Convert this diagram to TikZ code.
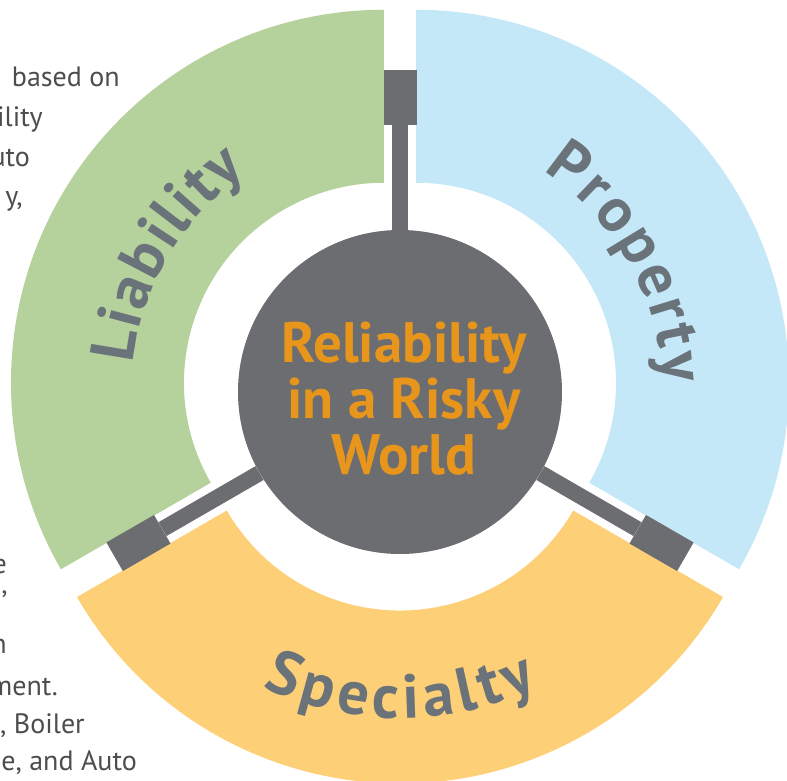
\documentclass[tikz,border=0pt]{standalone}
\usepackage{fontspec}
\setmainfont{PT Sans}
\usepackage{tikz}
\usetikzlibrary{decorations.text}

\definecolor{liabgreen}{RGB}{181,209,156}
\definecolor{propblue}{RGB}{197,232,249}
\definecolor{specyellow}{RGB}{253,207,118}
\definecolor{hubgray}{RGB}{108,109,113}
\definecolor{lblgray}{RGB}{106,114,122}
\definecolor{titleorange}{RGB}{232,150,27}
\definecolor{bodygray}{RGB}{77,77,79}

\newcommand{\lblfont}{\fontsize{62}{64}\selectfont\bfseries}

\tikzset{
	hub/.style={circle, fill=hubgray, minimum size=324pt, inner sep=0pt},
	block/.style={rectangle, fill=hubgray, minimum width=33pt, minimum height=55pt, inner sep=0pt},
	bar/.style={draw=hubgray, line width=16pt},
	title/.style={align=center, text=titleorange, inner sep=0pt, font=\fontsize{57}{56}\selectfont\bfseries},
	body/.style={anchor=base east, inner sep=0pt, text=bodygray, font=\fontsize{28}{40}\selectfont},
	arclabel/.style={decorate, decoration={text along path, text align={fit to path}, text color=lblgray}}
}

\begin{document}
\begin{tikzpicture}[x=1pt, y=1pt]
	\useasboundingbox (-400, -389) rectangle (387, 392);

	% the three parts of the ring, pushed out a little
	\begin{scope}[shift={(150:18.5)}]
		\fill[liabgreen] (90:373) arc[start angle=90, end angle=210, radius=373]
			-- (210:200) arc[start angle=210, end angle=90, radius=200] -- cycle;
	\end{scope}
	\begin{scope}[shift={(30:18.5)}]
		\fill[propblue] (-30:373) arc[start angle=-30, end angle=90, radius=373]
			-- (90:200) arc[start angle=90, end angle=-30, radius=200] -- cycle;
	\end{scope}
	\begin{scope}[shift={(270:18.5)}]
		\fill[specyellow] (210:373) arc[start angle=210, end angle=330, radius=373]
			-- (330:200) arc[start angle=330, end angle=210, radius=200] -- cycle;
	\end{scope}

	\path[arclabel, decoration={text={|\lblfont|Liability}}]
		(174:268) arc[start angle=174, end angle=125, radius=268];
	\path[arclabel, decoration={text={|\lblfont|Property}}]
		(57:263) arc[start angle=57, end angle=2, radius=263];
	\path[arclabel, decoration={text={|\lblfont|Specialty}}]
		(245:326) arc[start angle=245, end angle=295, radius=326];

	\node[hub] (hub) at (0, 0) {};
	\node[block] (blkN) at (90:294.5) {};
	\node[block, rotate=120] (blkSW) at (210:302) {};
	\node[block, rotate=240] (blkSE) at (330:302) {};
	\draw[bar] (hub) -- (blkN);
	\draw[bar] (hub) -- (blkSW);
	\draw[bar] (hub) -- (blkSE);

	\node[title] (motto) at (4, -6.5) {Reliability\\in a Risky\\World};

	% text running in from the left edge
	\begin{scope}
		\clip (-400, -389) rectangle (387, 392);
		\node[body] (t1) at (-280, 305) {based on};
		\node[body] (t2) at (-357, 265) {ility};
		\node[body] (t3) at (-370, 225) {uto};
		\node[body] (t4) at (-377, 186) {y,};
		\node[body] (b1) at (-393, -182) {e};
		\node[body] (b2) at (-392, -201) {,};
		\node[body] (b3) at (-393, -261) {n};
		\node[body] (b4) at (-342, -303) {ment.};
		\node[body] (b5) at (-315, -341) {, Boiler};
		\node[body] (b6) at (-263, -378) {e, and Auto};
	\end{scope}
\end{tikzpicture}
\end{document}
